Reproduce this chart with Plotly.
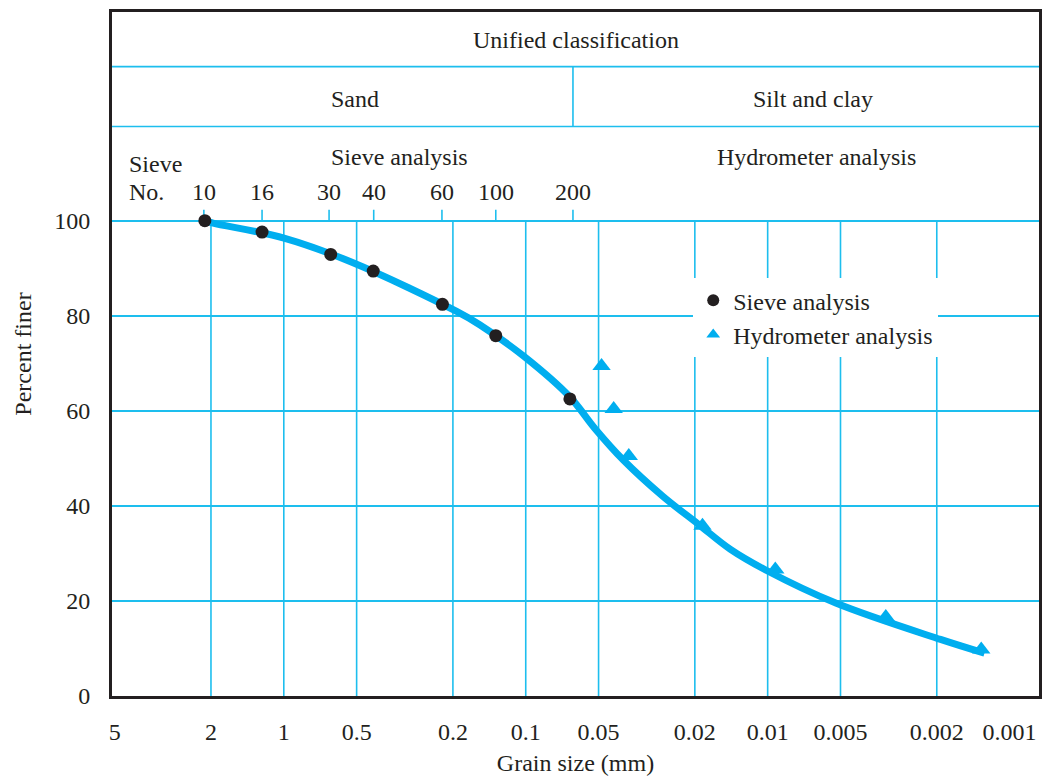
import numpy as np
import plotly.graph_objects as go

# ---------------- data ----------------
# Sieve analysis: grain size (mm) and percent finer
sieve_mm = [2.12, 1.23, 0.64, 0.427, 0.221, 0.133, 0.0657]
sieve_pct = [100, 97.6, 92.9, 89.4, 82.4, 75.8, 62.5]

# Sieve numbers marked along the top of the grid
sieve_numbers = ["10", "16", "30", "40", "60", "100", "200"]
sieve_tick_mm = [2.14, 1.23, 0.65, 0.425, 0.222, 0.133, 0.0638]

# Hydrometer analysis
hydro_mm = [0.0486, 0.0433, 0.0375, 0.0186, 0.0093, 0.00325, 0.00131]
hydro_pct = [69.4, 60.4, 50.5, 35.8, 26.6, 16.6, 9.8]

# Fitted grain-size distribution curve
curve_mm = [2.12, 1.96, 0.99, 0.52, 0.193, 0.155, 0.1015, 0.0657, 0.0518,
            0.0396, 0.0271, 0.0193, 0.0143, 0.0101, 0.0052, 0.00193, 0.00127]
curve_pct = [100, 99.5, 96.3, 91.2, 80.9, 78.1, 71.4, 62.9, 56.3,
             49.7, 42.0, 36.1, 30.9, 26.4, 19.5, 11.9, 9.0]

# Axes
x_tick_vals = [5, 2, 1, 0.5, 0.2, 0.1, 0.05, 0.02, 0.01, 0.005, 0.002, 0.001]
x_tick_text = ["5", "2", "1", "0.5", "0.2", "0.1", "0.05", "0.02", "0.01",
               "0.005", "0.002", "0.001"]
x_grid_vals = [2, 1, 0.5, 0.2, 0.1, 0.05, 0.02, 0.01, 0.005, 0.002]
y_tick_vals = [0, 20, 40, 60, 80, 100]
x_range_mm = [5.13, 0.000756]
y_max = 143.9

# Header table (unified classification)
sand_silt_boundary_mm = 0.0638
header_rows = [119.8, 132.4]
grid_top = 100
sieve_tick_top = 102.3

# ---------------- styling ----------------
CYAN = "#00AEEF"
GRID = "#1DBEEE"
INK = "#231F20"
FONT = "Liberation Serif, Times New Roman, serif"
FS = 24

fig = go.Figure()

# vertical grid lines (only from 0 to 100)
gx, gy = [], []
for v in x_grid_vals:
    gx += [v, v, None]
    gy += [0, grid_top, None]
fig.add_trace(go.Scatter(x=gx, y=gy, mode="lines", line=dict(color=GRID, width=1.6),
                         showlegend=False, hoverinfo="skip"))

# sieve tick marks above the 100 line
tx, ty = [], []
for v in sieve_tick_mm:
    tx += [v, v, None]
    ty += [grid_top, sieve_tick_top, None]
fig.add_trace(go.Scatter(x=tx, y=ty, mode="lines", line=dict(color=GRID, width=1.6),
                         showlegend=False, hoverinfo="skip"))

# sand / silt divider in the header
fig.add_trace(go.Scatter(x=[sand_silt_boundary_mm, sand_silt_boundary_mm],
                         y=header_rows, mode="lines",
                         line=dict(color=GRID, width=1.6),
                         showlegend=False, hoverinfo="skip"))

# fitted curve
fig.add_trace(go.Scatter(x=curve_mm, y=curve_pct, mode="lines",
                         line=dict(color=CYAN, width=7, shape="spline", smoothing=1.0),
                         showlegend=False, hoverinfo="skip"))

# data
fig.add_trace(go.Scatter(x=sieve_mm, y=sieve_pct, mode="markers", name="Sieve analysis",
                         marker=dict(symbol="circle", size=13, color=INK)))
fig.add_trace(go.Scatter(x=hydro_mm, y=hydro_pct, mode="markers", name="Hydrometer analysis",
                         marker=dict(symbol="triangle-up", size=16, color=CYAN)))

# header horizontal lines
shapes = []
for r in header_rows:
    shapes.append(dict(type="line", xref="paper", yref="y", x0=0, x1=1, y0=r, y1=r,
                       line=dict(color=GRID, width=1.6), layer="below"))

annotations = [
    dict(text="Unified classification", xref="paper", yref="y", x=0.5, y=138.0,
         showarrow=False, xanchor="center", yanchor="middle"),
    dict(text="Sand", xref="x", yref="y", x=np.log10(0.508), y=125.6,
         showarrow=False, xanchor="center", yanchor="middle"),
    dict(text="Silt and clay", xref="x", yref="y", x=np.log10(0.00652), y=125.6,
         showarrow=False, xanchor="center", yanchor="middle"),
    dict(text="Sieve analysis", xref="x", yref="y", x=np.log10(0.331), y=113.4,
         showarrow=False, xanchor="center", yanchor="middle"),
    dict(text="Hydrometer analysis", xref="x", yref="y", x=np.log10(0.00627), y=113.4,
         showarrow=False, xanchor="center", yanchor="middle"),
    dict(text="Sieve", xref="x", yref="y", x=np.log10(4.45), y=112.0,
         showarrow=False, xanchor="left", yanchor="middle"),
    dict(text="No.", xref="x", yref="y", x=np.log10(4.45), y=106.1,
         showarrow=False, xanchor="left", yanchor="middle"),
]
for lab, v in zip(sieve_numbers, sieve_tick_mm):
    annotations.append(dict(text=lab, xref="x", yref="y", x=np.log10(v), y=106.1,
                            showarrow=False, xanchor="center", yanchor="middle"))

fig.update_layout(
    width=1043, height=768,
    margin=dict(l=104, r=12, t=4, b=80, autoexpand=False),
    paper_bgcolor="white", plot_bgcolor="white",
    font=dict(family=FONT, size=FS, color=INK),
    shapes=shapes,
    annotations=annotations,
    legend=dict(x=0.627, y=0.611, xanchor="left", yanchor="top",
                bgcolor="white", borderwidth=0, font=dict(size=FS),
                tracegroupgap=0, itemsizing="constant"),
)

fig.update_xaxes(
    type="log", range=[np.log10(x_range_mm[0]), np.log10(x_range_mm[1])],
    tickmode="array", tickvals=x_tick_vals, ticktext=x_tick_text,
    showgrid=False, zeroline=False, ticks="", automargin=False,
    showline=True, mirror=True, linecolor=INK, linewidth=3,
    ticklabelstandoff=12,
    title=dict(text="Grain size (mm)", standoff=14, font=dict(size=FS)),
)
fig.update_yaxes(
    range=[0, y_max], tickmode="array", tickvals=y_tick_vals,
    showgrid=True, gridcolor=GRID, gridwidth=1.6, zeroline=False, ticks="",
    showline=True, mirror=True, linecolor=INK, linewidth=3, automargin=False,
    ticklabelstandoff=14,
    title=dict(text="Percent finer", standoff=16, font=dict(size=FS)),
)

fig.write_html("out.html")
